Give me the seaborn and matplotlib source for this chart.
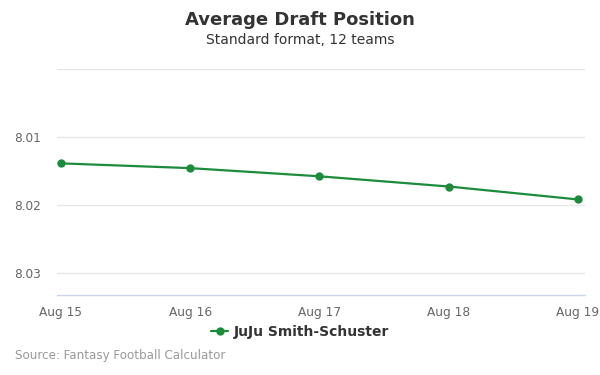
import pandas as pd
import numpy as np
import matplotlib.pyplot as plt
import seaborn as sns

# chart data
dates = ['Aug 15', 'Aug 16', 'Aug 17', 'Aug 18', 'Aug 19']
adp = [8.0139, 8.0146, 8.0158, 8.0173, 8.0192]
player = 'JuJu Smith-Schuster'
y_ticks = [8.00, 8.01, 8.02, 8.03]
y_labels = ['', '8.01', '8.02', '8.03']

df = pd.DataFrame({'date': dates, 'adp': adp, 'x': range(len(dates))})

sns.set_style('white')
plt.rcParams['font.family'] = ['DejaVu Sans']

fig = plt.figure(figsize=(6, 3.75), dpi=100)
ax = fig.add_axes([0.095, 0.214, 0.88, 0.6027])

green = '#1c8c3c'
sns.lineplot(data=df, x='x', y='adp', ax=ax, color=green, marker='o',
             markersize=6, markeredgewidth=0, linewidth=1.6, label=player)

ax.set_ylim(8.0332, 8.00)
ax.set_xlim(-0.03, 4.055)
ax.set_yticks(y_ticks)
ax.set_yticklabels(y_labels)
ax.set_xticks(df['x'])
ax.set_xticklabels(dates)
ax.set_xlabel('')
ax.set_ylabel('')

ax.grid(axis='y', color='#e6e6e6', linewidth=1)
ax.set_axisbelow(True)
for s in ['top', 'right', 'left']:
    ax.spines[s].set_visible(False)
ax.spines['bottom'].set_color('#ccd6eb')
ax.spines['bottom'].set_linewidth(1)
ax.tick_params(axis='x', length=5, color='#ccd6eb', labelsize=8.7, labelcolor='#666666', pad=3)
ax.tick_params(axis='y', length=0, labelsize=8.7, labelcolor='#666666', pad=11.5)

# legend below the plot, centred on the figure
ax.get_legend().remove()
handles, labels = ax.get_legend_handles_labels()
leg = fig.legend(handles, labels, loc='center', bbox_to_anchor=(0.5, 0.115), frameon=False,
                 fontsize=10, handlelength=1.2, handletextpad=0.4)
for t in leg.get_texts():
    t.set_fontweight('bold')
    t.set_color('#333333')

fig.text(0.5, 0.947, 'Average Draft Position', ha='center', va='center',
         fontsize=13, fontweight='bold', color='#333333')
fig.text(0.5, 0.893, 'Standard format, 12 teams', ha='center', va='center',
         fontsize=10, color='#333333')
fig.text(0.025, 0.051, 'Source: Fantasy Football Calculator', ha='left', va='center',
         fontsize=8.6, color='#999999')

plt.savefig('out.png', dpi=100)
